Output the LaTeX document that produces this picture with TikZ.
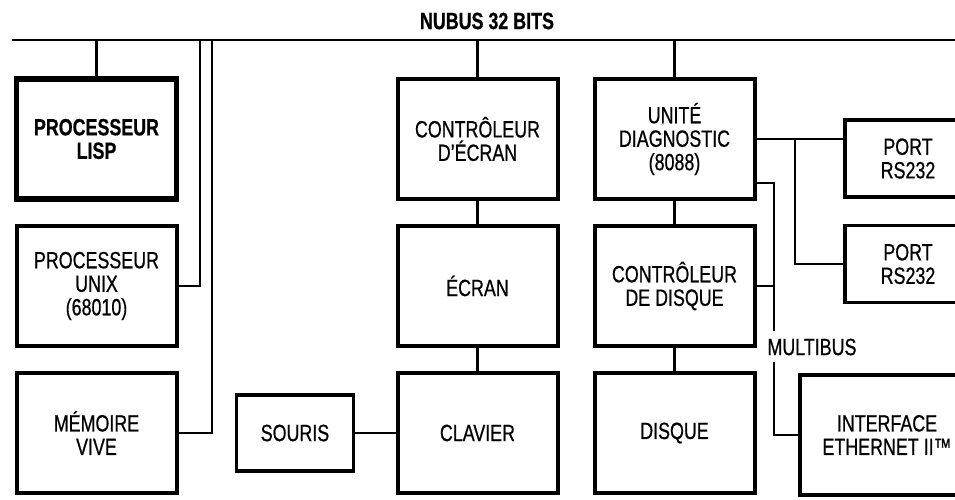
\documentclass[tikz,border=0pt]{standalone}
\usepackage{fontspec}
\setmainfont{Liberation Sans}[FakeStretch=0.76,FakeBold=0.6]
\usetikzlibrary{positioning}
\tikzset{
  unit/.style={draw=black, line width=4pt, fill=white, inner sep=0pt, outer sep=0pt,
    minimum width=160pt, minimum height=120pt, align=center,
    font=\fontsize{23.5}{23.5}\selectfont},
  mainunit/.style={unit, line width=5.5pt, font=\fontsize{23.5}{23.5}\selectfont\bfseries},
  smallunit/.style={unit, line width=3.5pt, minimum height=77pt},
  wire/.style={draw=black, line width=2.7pt},
  buslabel/.style={inner sep=0pt, font=\fontsize{23.5}{23.5}\selectfont}
}

\begin{document}
\begin{tikzpicture}[x=1pt,y=-1pt,node distance=27pt and 44pt]
    \clip (0,0) rectangle (955,499);
    \fill[white] (0,0) rectangle (955,499);

    % bus NuBus
    \coordinate (busL) at (12,40); \coordinate (busR) at (960,40);
    \draw[wire] (busL) -- (busR);
    \node[buslabel, font=\fontsize{23.5}{23.5}\selectfont\bfseries] (nubus) at (487,21) {NUBUS 32 BITS};

    % colonne gauche
    \node[mainunit] (lisp) at (96.5,139) {PROCESSEUR\\LISP};
    \node[unit, below=of lisp] (unix) {PROCESSEUR\\UNIX\\(68010)};
    \node[unit, below=of unix] (mem) {MÉMOIRE\\VIVE};

    % colonne du milieu
    \node[unit] (ecrctl) at (477.5,139) {CONTRÔLEUR\\D'ÉCRAN};
    \node[unit, below=of ecrctl] (ecran) {ÉCRAN};
    \node[unit, below=of ecran] (clavier) {CLAVIER};
    \node[smallunit, minimum width=117pt, minimum height=76pt, left=of clavier] (souris) {SOURIS};

    % colonne droite
    \node[unit] (diag) at (674.5,139) {UNITÉ\\DIAGNOSTIC\\(8088)};
    \node[unit, below=of diag] (dskctl) {CONTRÔLEUR\\DE DISQUE};
    \node[unit, below=of dskctl] (disque) {DISQUE};
    \node[smallunit, minimum width=126pt, anchor=west] (port1) at (845,158.5) {PORT\\RS232};
    \node[smallunit, minimum width=126pt, anchor=west] (port2) at (845,264) {PORT\\RS232};
    \node[unit, minimum width=174pt, anchor=west] (eth) at (800,435) {INTERFACE\\ETHERNET II™};

    % liaisons au bus
    \coordinate (tapU) at (200,40); \coordinate (tapM) at (212,40);
    \draw[wire] (lisp.north) -- (lisp.north |- busL);
    \draw[wire] (unix.east) -| (tapU);
    \draw[wire] (mem.east) -| (tapM);
    \draw[wire] (ecrctl.north) -- (ecrctl.north |- busL);
    \draw[wire] (diag.north) -- (diag.north |- busL);

    \draw[wire] (ecrctl) -- (ecran);
    \draw[wire] (ecran) -- (clavier);
    \draw[wire] (souris) -- (clavier);
    \draw[wire] (diag) -- (dskctl);
    \draw[wire] (dskctl) -- (disque);

    % ports serie
    \coordinate (tapP) at (795,139);
    \draw[wire] (diag.east) -- (diag.east -| port1.west);
    \draw[wire] (tapP) |- (port2.west);

    % multibus
    \coordinate (mbEnd) at (774,331); \coordinate (mbLow) at (774,362);
    \draw[wire] ([yshift=-44pt]diag.east) -| (mbEnd);
    \draw[wire] (dskctl.east) -- (dskctl.east -| mbEnd);
    \node[buslabel] (mbus) at (812,347) {MULTIBUS};
    \draw[wire] (mbLow) |- (eth.west);
\end{tikzpicture}
\end{document}
